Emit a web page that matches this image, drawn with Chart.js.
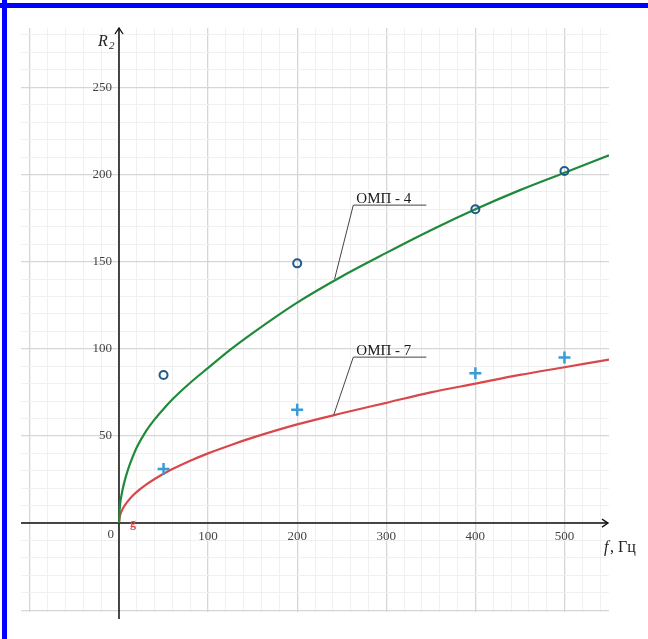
<!DOCTYPE html>
<html><head><meta charset="utf-8">
<script src="https://cdn.jsdelivr.net/npm/chart.js@4.4.0/dist/chart.umd.min.js"></script>
<style>
html,body{margin:0;padding:0;background:#fff;overflow:hidden;}
#wrap{position:relative;width:648px;height:639px;}
#bt{position:absolute;left:0;top:3px;width:648px;height:5px;background:#0000ff;}
#bl{position:absolute;left:2px;top:0;width:5px;height:639px;background:#0000ff;}
</style></head><body>
<div id="wrap"><canvas id="c"></canvas><div id="bt"></div><div id="bl"></div></div>
<script>
// fitted curves
const freq      = [0, 1, 3, 6, 10, 15, 20, 30, 40, 50, 60, 80, 100, 125, 150, 200, 250, 300, 350, 400, 450, 500, 550];
const omp4Curve = [0, 9.5, 16.5, 23.5, 30.5, 37.5, 43.5, 52.5, 59.5, 65.5, 71, 80.5, 89, 99.5, 109, 126.5, 141.5, 155, 168, 180, 191, 201, 211];
const omp7Curve = [0, 4, 6.9, 9.8, 12.6, 15.5, 17.9, 21.9, 25.3, 28.3, 31, 35.8, 40, 44.7, 49, 56.6, 63, 69, 75, 80, 85, 89.4, 93.8];
// measured points
const measFreq = [50, 200, 400, 500];
const omp4Meas = [85, 149, 180, 202];
const omp7Meas = [31, 65, 86, 95];
// tick labels
const xTickLabels = [100, 200, 300, 400, 500];
const yTickLabels = [50, 100, 150, 200, 250];
const seriesNames = ['ОМП - 4', 'ОМП - 7'];

const toXY = (xs, ys) => xs.map((v, i) => ({x: v, y: ys[i]}));

// leader-label anchors (data coords): point on curve, elbow, underline end
const leaders = [
  {name: seriesNames[0], ax: 242, ay: 140, ex: 263, ey: 182.4, endX: 345},
  {name: seriesNames[1], ax: 241, ay: 62, ex: 263, ey: 95.2, endX: 345}
];

const SERIF = '"Liberation Serif", "DejaVu Serif", serif';

const decor = {
  id: 'decor',
  beforeDatasetsDraw(chart) {
    const {ctx, chartArea: a, scales: {x, y}} = chart;
    const x0 = x.getPixelForValue(0), y0 = y.getPixelForValue(0);
    ctx.save();
    ctx.strokeStyle = '#111';
    ctx.lineWidth = 1.5;
    ctx.beginPath();
    ctx.moveTo(a.left, y0); ctx.lineTo(a.right - 1, y0);
    ctx.moveTo(x0, a.bottom + 7); ctx.lineTo(x0, a.top);
    ctx.stroke();
    ctx.lineWidth = 1.3;
    ctx.beginPath();
    ctx.moveTo(a.right - 7, y0 - 4); ctx.lineTo(a.right - 1, y0); ctx.lineTo(a.right - 7, y0 + 4);
    ctx.moveTo(x0 - 4, a.top + 6); ctx.lineTo(x0, a.top); ctx.lineTo(x0 + 4, a.top + 6);
    ctx.stroke();
    // y tick labels, right aligned left of the axis
    ctx.fillStyle = '#444';
    ctx.font = '13px ' + SERIF;
    ctx.textAlign = 'right'; ctx.textBaseline = 'middle';
    yTickLabels.forEach(v => ctx.fillText(String(v), x0 - 7, y.getPixelForValue(v)));
    // origin label and small g
    ctx.fillText('0', x0 - 5, y0 + 11);
    ctx.fillStyle = '#d9474b';
    ctx.font = 'bold 12px ' + SERIF;
    ctx.textAlign = 'left';
    ctx.fillText('g', x0 + 11, y0 + 1);
    // axis titles
    ctx.fillStyle = '#222';
    ctx.textBaseline = 'alphabetic';
    ctx.font = 'italic 16px ' + SERIF;
    ctx.fillText('R', x0 - 21, a.top + 18);
    ctx.font = 'italic 11px ' + SERIF;
    ctx.fillText('2', x0 - 10, a.top + 21);
    ctx.font = 'italic 16px ' + SERIF;
    ctx.fillText('f', a.right - 5, y0 + 29);
    ctx.font = '16px ' + SERIF;
    ctx.fillText(', Гц', a.right + 1, y0 + 29);
    ctx.restore();
  },
  afterDatasetsDraw(chart) {
    const {ctx, scales: {x, y}} = chart;
    ctx.save();
    leaders.forEach(l => {
      const ax = x.getPixelForValue(l.ax), ay = y.getPixelForValue(l.ay);
      const ex = x.getPixelForValue(l.ex), ey = y.getPixelForValue(l.ey);
      const ux = x.getPixelForValue(l.endX);
      ctx.strokeStyle = '#444';
      ctx.lineWidth = 1;
      ctx.beginPath();
      ctx.moveTo(ax, ay); ctx.lineTo(ex, ey); ctx.lineTo(ux, ey);
      ctx.stroke();
      ctx.fillStyle = '#1a1a1a';
      ctx.font = '15px ' + SERIF;
      ctx.textAlign = 'left'; ctx.textBaseline = 'alphabetic';
      ctx.fillText(l.name, ex + 3, ey - 2);
    });
    ctx.restore();
  }
};

function gridTicks(step) {
  return (scale) => {
    const t = [];
    const start = Math.ceil(scale.min / step) * step;
    for (let v = start; v <= scale.max + 1e-9; v += step) t.push({value: v});
    scale.ticks = t;
  };
}

new Chart(document.getElementById('c'), {
  type: 'scatter',
  data: {
    datasets: [
      {label: seriesNames[0], data: toXY(freq, omp4Curve), showLine: true, pointRadius: 0,
       borderColor: '#1f8a3a', borderWidth: 2.2, cubicInterpolationMode: 'monotone', order: 3},
      {label: seriesNames[1], data: toXY(freq, omp7Curve), showLine: true, pointRadius: 0,
       borderColor: '#d9474b', borderWidth: 2.2, cubicInterpolationMode: 'monotone', order: 3},
      {label: seriesNames[0] + ' exp', data: toXY(measFreq, omp4Meas), showLine: false,
       pointStyle: 'circle', pointRadius: 4, borderColor: '#1f5a8a', borderWidth: 2,
       backgroundColor: 'rgba(255,255,255,0)', order: 1},
      {label: seriesNames[1] + ' exp', data: toXY(measFreq, omp7Meas), showLine: false,
       pointStyle: 'cross', pointRadius: 6, borderColor: '#3b9bd6', borderWidth: 2.5, order: 1}
    ]
  },
  options: {
    responsive: true, maintainAspectRatio: false, animation: false,
    layout: {padding: {left: 21, top: 28, right: 39, bottom: 27}},
    plugins: {legend: {display: false}, tooltip: {enabled: false}},
    scales: {
      x: {
        type: 'linear', min: -110, max: 550, position: {y: 0},
        afterBuildTicks: gridTicks(20),
        grid: {drawTicks: false,
          color: c => (c.tick && c.tick.value % 100 === 0) ? '#d6d6d6' : '#f0f0f0',
          lineWidth: c => (c.tick && c.tick.value % 100 === 0) ? 1.3 : 1},
        border: {display: false},
        ticks: {autoSkip: false, maxRotation: 0, padding: 6, color: '#444',
          font: {family: SERIF, size: 13},
          callback: v => xTickLabels.includes(v) ? String(v) : ''}
      },
      y: {
        type: 'linear', min: -51, max: 284, position: {x: 0},
        afterBuildTicks: gridTicks(10),
        grid: {drawTicks: false,
          color: c => (c.tick && c.tick.value % 50 === 0) ? '#d6d6d6' : '#f0f0f0',
          lineWidth: c => (c.tick && c.tick.value % 50 === 0) ? 1.3 : 1},
        border: {display: false},
        ticks: {display: false}
      }
    }
  },
  plugins: [decor]
});
</script>
</body></html>
